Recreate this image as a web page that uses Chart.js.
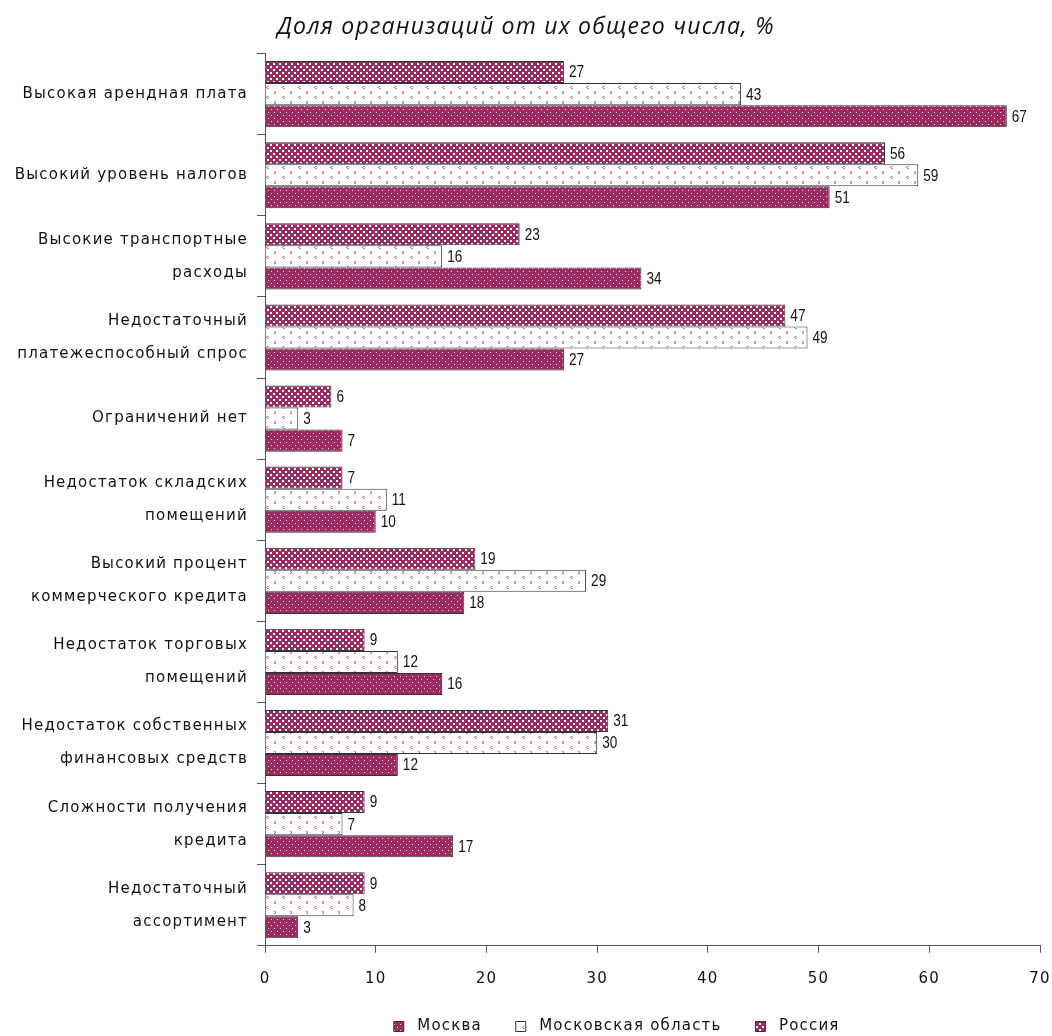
<!DOCTYPE html>
<html>
<head>
<meta charset="utf-8">
<script src="https://cdn.jsdelivr.net/npm/chart.js@4"></script>
<style>
  body { margin: 0; background: #fff; }
</style>
</head>
<body>
<canvas id="myChart" width="1052" height="1036"></canvas>
<script>
let categories = [
  'Высокая арендная плата',
  'Высокий уровень налогов',
  ['Высокие транспортные', 'расходы'],
  ['Недостаточный', 'платежеспособный спрос'],
  'Ограничений нет',
  ['Недостаток складских', 'помещений'],
  ['Высокий процент', 'коммерческого кредита'],
  ['Недостаток торговых', 'помещений'],
  ['Недостаток собственных', 'финансовых средств'],
  ['Сложности получения', 'кредита'],
  ['Недостаточный', 'ассортимент']
];
let russia = [27, 56, 23, 47, 6, 7, 19, 9, 31, 9, 9];
let moscowRegion = [43, 59, 16, 49, 3, 11, 29, 12, 30, 7, 8];
let moscow = [67, 51, 34, 27, 7, 10, 18, 16, 12, 17, 3];
let xTicks = [0, 10, 20, 30, 40, 50, 60, 70];

let magenta = '#9a2c62';
let labelFont = '"DejaVu Sans", sans-serif';

function makePattern(w, h, draw) {
  let c = document.createElement('canvas');
  c.width = w;
  c.height = h;
  let g = c.getContext('2d');
  draw(g);
  return g.createPattern(c, 'repeat');
}

// Москва - тёмная заливка с белыми точками
let moscowFill = makePattern(6, 6, function(g) {
  g.fillStyle = magenta;
  g.fillRect(0, 0, 6, 6);
  g.fillStyle = '#f6dbe9';
  g.fillRect(1, 1, 1, 1);
  g.fillRect(4, 4, 1, 1);
});

// Московская область - белая с розовыми уголками
let regionFill = makePattern(16, 10, function(g) {
  g.fillStyle = '#fff';
  g.fillRect(0, 0, 16, 10);
  g.fillStyle = '#c75d93';
  g.fillRect(2, 1, 1, 1);
  g.fillRect(3, 2, 1, 1);
  g.fillRect(2, 3, 1, 1);
  g.fillRect(11, 6, 1, 1);
  g.fillRect(10, 7, 1, 1);
  g.fillRect(11, 8, 1, 1);
  g.fillStyle = '#e4b0cb';
  g.fillRect(3, 1, 1, 1);
  g.fillRect(3, 3, 1, 1);
  g.fillRect(12, 6, 1, 1);
  g.fillRect(12, 8, 1, 1);
});

// Россия - клетка
let russiaFill = makePattern(6, 6, function(g) {
  g.fillStyle = magenta;
  g.fillRect(0, 0, 6, 6);
  g.fillStyle = '#fff';
  g.fillRect(0, 0, 2, 2);
  g.fillRect(3, 3, 2, 2);
});

// разрядка букв, как в исходной картинке
let spacing = {
  id: 'spacing',
  beforeLayout: function(chart) { chart.ctx.letterSpacing = '1.2px'; },
  beforeDraw: function(chart) { chart.ctx.letterSpacing = '1.2px'; }
};

let valueLabels = {
  id: 'valueLabels',
  afterDatasetsDraw: function(chart) {
    let ctx = chart.ctx;
    ctx.save();
    ctx.letterSpacing = '0px';
    ctx.font = '16px "Liberation Sans", sans-serif';
    ctx.fillStyle = '#111';
    ctx.textAlign = 'left';
    ctx.textBaseline = 'middle';
    chart.data.datasets.forEach(function(ds, i) {
      chart.getDatasetMeta(i).data.forEach(function(bar, j) {
        ctx.save();
        ctx.translate(bar.x + 5, bar.y + 1);
        ctx.scale(0.85, 1);
        ctx.fillText(ds.data[j], 0, 0);
        ctx.restore();
      });
    });
    ctx.restore();
  }
};

var ctx = document.getElementById('myChart');
var myChart = new Chart(ctx, {
  type: 'bar',
  data: {
    labels: categories,
    datasets: [{
      label: 'Россия',
      data: russia,
      backgroundColor: russiaFill,
      borderColor: '#333',
      borderWidth: 1
    }, {
      label: 'Московская область',
      data: moscowRegion,
      backgroundColor: regionFill,
      borderColor: '#333',
      borderWidth: 1
    }, {
      label: 'Москва',
      data: moscow,
      backgroundColor: moscowFill,
      borderColor: '#333',
      borderWidth: 1
    }]
  },
  options: {
    indexAxis: 'y',
    responsive: false,
    animation: false,
    devicePixelRatio: 1,
    categoryPercentage: 0.816,
    barPercentage: 1,
    layout: { padding: { left: 0, right: 0, top: 0, bottom: -8 } },
    scales: {
      x: {
        min: 0,
        max: 70,
        afterBuildTicks: function(axis) {
          axis.ticks = xTicks.map(function(v) { return { value: v }; });
        },
        afterFit: function(axis) {
          axis.paddingLeft = 0;
          axis.paddingRight = 12;
        },
        border: { color: '#555', width: 1 },
        grid: { drawOnChartArea: false, drawTicks: true, tickLength: 7, color: '#555' },
        ticks: {
          color: '#111',
          padding: 17,
          font: { family: labelFont, size: 15 }
        },
        title: {
          display: true,
          text: ' ',
          font: { size: 6 },
          padding: { top: 0, bottom: 3 }
        }
      },
      y: {
        afterFit: function(axis) { axis.width = 265; },
        border: { color: '#555', width: 1 },
        grid: { drawOnChartArea: false, drawTicks: true, tickLength: 8, color: '#555', offset: true },
        ticks: {
          color: '#111',
          padding: 9,
          font: { family: labelFont, size: 15, lineHeight: 2.2 }
        }
      }
    },
    plugins: {
      title: {
        display: true,
        text: 'Доля организаций от их общего числа, %',
        color: '#111',
        font: { family: '"Open Sans", sans-serif', size: 23, style: 'italic', weight: 'normal' },
        padding: { top: 14, bottom: 12 }
      },
      legend: {
        position: 'bottom',
        reverse: true,
        fullSize: false,
        labels: {
          color: '#111',
          boxWidth: 10,
          boxHeight: 10,
          padding: 4,
          font: { family: labelFont, size: 15 },
          generateLabels: function(chart) {
            let items = Chart.defaults.plugins.legend.labels.generateLabels(chart);
            items.forEach(function(item) {
              item.lineWidth = 1;
              item.strokeStyle = '#333';
              if (item.datasetIndex == 0) {
                item.text = ' ' + item.text + '            ';
              } else {
                item.text = ' ' + item.text + '     ';
              }
            });
            return items;
          }
        }
      },
      tooltip: { enabled: false }
    }
  },
  plugins: [spacing, valueLabels]
});
</script>
</body>
</html>
